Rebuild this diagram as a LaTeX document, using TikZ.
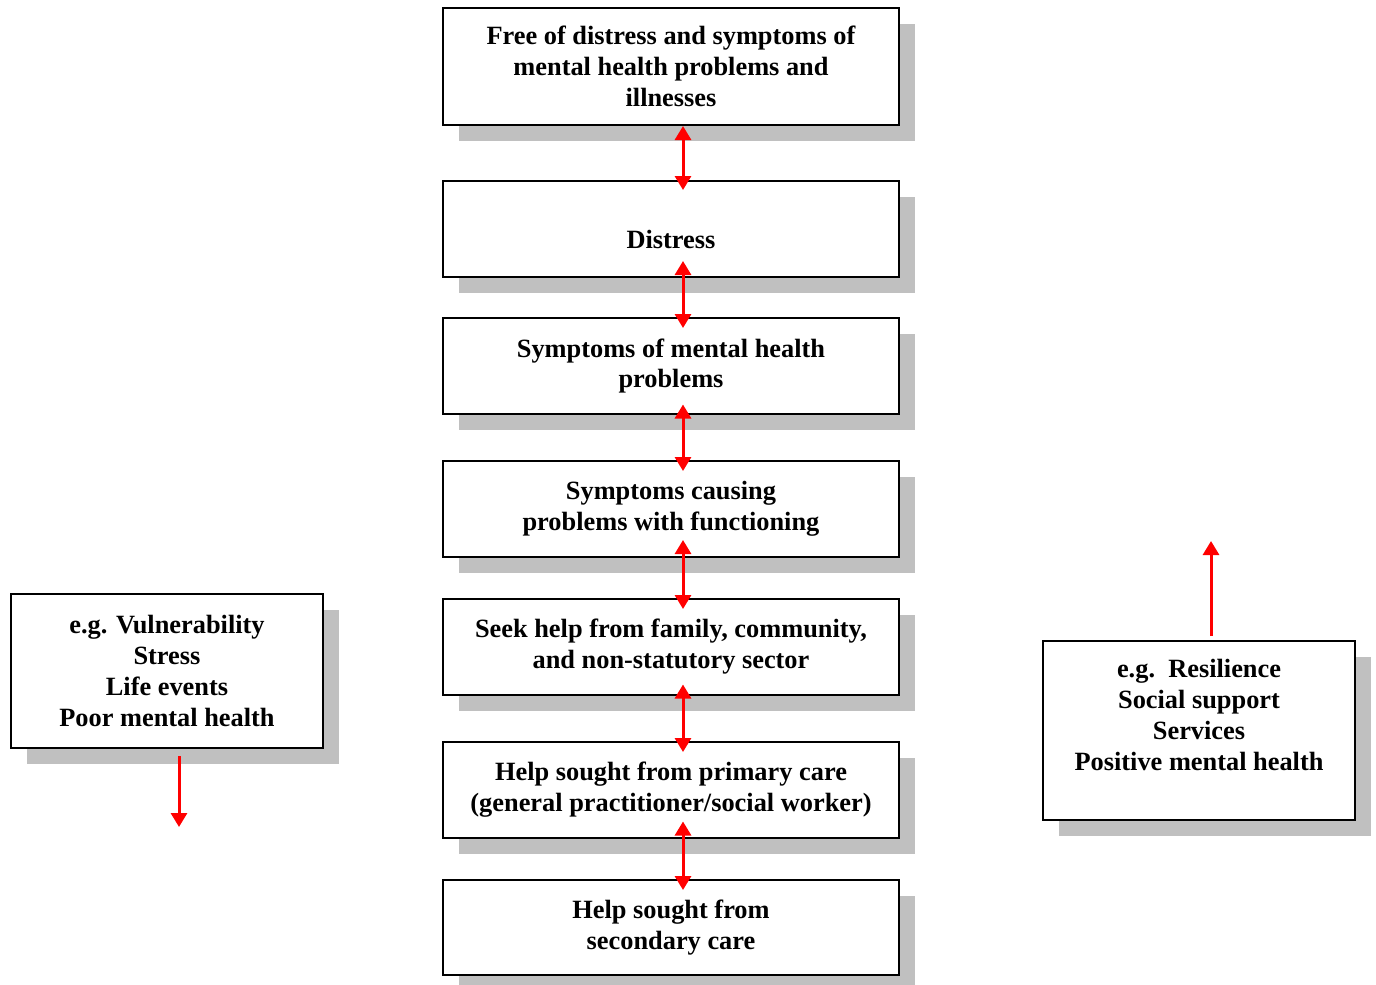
\documentclass[tikz,border=0pt]{standalone}
\usepackage{fontspec}
\setmainfont{Liberation Serif}
\usetikzlibrary{shadows,arrows.meta}
\definecolor{shadowgray}{RGB}{192,192,192}

\begin{document}
\begin{tikzpicture}[font=\fontsize{15}{17.6}\selectfont\bfseries]

      \useasboundingbox (0,0) rectangle (27.52,-19.68);

      \begin{scope}[every node/.style={draw, line width=.04cm, fill=white, align=center,
          minimum width=9.12cm, minimum height=1.92cm,
          drop shadow={shadow xshift=.32cm, shadow yshift=-.32cm, fill=shadowgray, opacity=1}}]
        \node (1) at (13.42,-1.33)  [minimum height=2.34cm] {Free of distress and symptoms of\\mental health problems and\\illnesses};
        \node (2) at (13.42,-4.58)  {\rule{0pt}{.77cm}Distress};
        \node (3) at (13.42,-7.32)  {Symptoms of mental health\\problems};
        \node (4) at (13.42,-10.18) {Symptoms causing\\ problems with functioning};
        \node (5) at (13.42,-12.94) {Seek help from family, community,\\and non-statutory sector};
        \node (6) at (13.42,-15.80) {Help sought from primary care\\(general practitioner/social worker)};
        \node (7) at (13.42,-18.55) [minimum height=1.9cm] {Help sought from\\secondary care};
        \node (8) at (3.34,-13.42)  [minimum width=6.24cm, minimum height=3.08cm] {e.g. Vulnerability\\Stress\\Life events\\Poor mental health};
        \node (9) at (23.98,-14.61) [minimum width=6.24cm, minimum height=3.58cm] {e.g.\ \ Resilience\\Social support\\Services\\Positive mental health\\[.02cm]};
      \end{scope}

      \coordinate (down) at (3.58,-16.54);
      \coordinate (up)   at (24.22,-10.82);

      \begin{scope}[every edge/.style={draw, red, line width=.06cm, {Triangle[width=.32cm,length=.28cm]}-{Triangle[width=.32cm,length=.28cm]}}]
        \path ([xshift=.24cm]1.south)            edge ([xshift=.24cm,yshift=-.2cm]2.north);
        \path ([xshift=.24cm,yshift=.34cm]2.south) edge ([xshift=.24cm,yshift=-.22cm]3.north);
        \path ([xshift=.24cm,yshift=.21cm]3.south) edge ([xshift=.24cm,yshift=-.22cm]4.north);
        \path ([xshift=.24cm,yshift=.36cm]4.south) edge ([xshift=.24cm,yshift=-.22cm]5.north);
        \path ([xshift=.24cm,yshift=.23cm]5.south) edge ([xshift=.24cm,yshift=-.22cm]6.north);
        \path ([xshift=.24cm,yshift=.35cm]6.south) edge ([xshift=.24cm,yshift=-.22cm]7.north);
      \end{scope}

      \begin{scope}[every edge/.style={draw, red, line width=.06cm, -{Triangle[width=.32cm,length=.28cm]}}]
        \path ([xshift=.24cm,yshift=-.14cm]8.south) edge (down);
        \path ([xshift=.24cm,yshift=.08cm]9.north)  edge (up);
      \end{scope}

    \end{tikzpicture}
\end{document}
